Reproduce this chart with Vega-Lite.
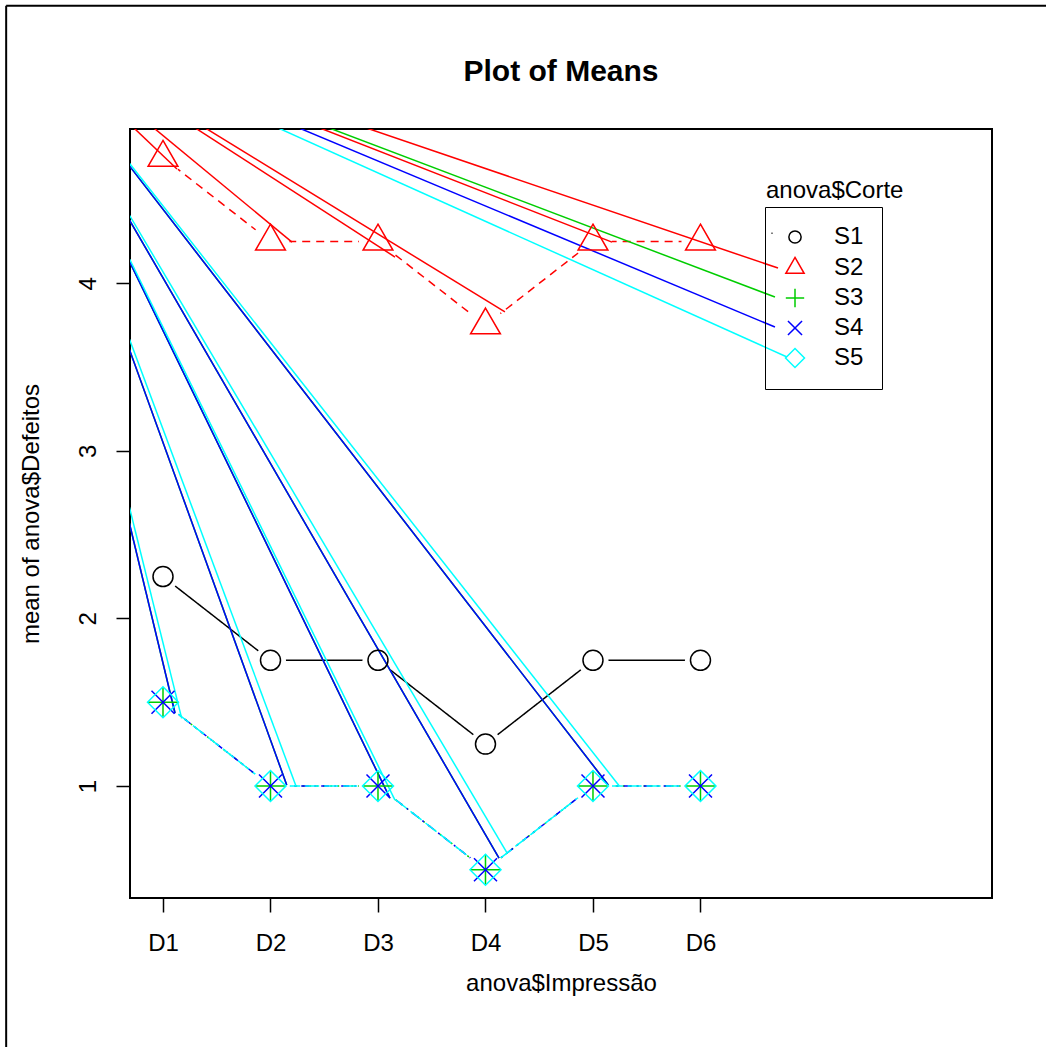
{
  "$schema": "https://vega.github.io/schema/vega-lite/v6.json",
  "width": 862,
  "height": 769,
  "autosize": {"type": "none"},
  "padding": {"left": 130, "top": 129, "right": 54, "bottom": 149},
  "background": "white",
  "config": {
    "view": {"stroke": "black", "strokeWidth": 2},
    "font": "Liberation Sans"
  },
  "title": {
    "text": "Plot of Means",
    "fontSize": 30,
    "fontWeight": "bold",
    "font": "Liberation Sans",
    "color": "black",
    "anchor": "middle",
    "frame": "group",
    "offset": -106,
    "baseline": "alphabetic"
  },
  "datasets": {
    "means": [
      {"Corte": "S1", "Impressao": "D1", "pos": 1, "mean": 2.25},
      {"Corte": "S1", "Impressao": "D2", "pos": 2, "mean": 1.75},
      {"Corte": "S1", "Impressao": "D3", "pos": 3, "mean": 1.75},
      {"Corte": "S1", "Impressao": "D4", "pos": 4, "mean": 1.25},
      {"Corte": "S1", "Impressao": "D5", "pos": 5, "mean": 1.75},
      {"Corte": "S1", "Impressao": "D6", "pos": 6, "mean": 1.75},
      {"Corte": "S2", "Impressao": "D1", "pos": 1, "mean": 4.75},
      {"Corte": "S2", "Impressao": "D2", "pos": 2, "mean": 4.25},
      {"Corte": "S2", "Impressao": "D3", "pos": 3, "mean": 4.25},
      {"Corte": "S2", "Impressao": "D4", "pos": 4, "mean": 3.75},
      {"Corte": "S2", "Impressao": "D5", "pos": 5, "mean": 4.25},
      {"Corte": "S2", "Impressao": "D6", "pos": 6, "mean": 4.25},
      {"Corte": "S3", "Impressao": "D1", "pos": 1, "mean": 1.5},
      {"Corte": "S3", "Impressao": "D2", "pos": 2, "mean": 1.0},
      {"Corte": "S3", "Impressao": "D3", "pos": 3, "mean": 1.0},
      {"Corte": "S3", "Impressao": "D4", "pos": 4, "mean": 0.5},
      {"Corte": "S3", "Impressao": "D5", "pos": 5, "mean": 1.0},
      {"Corte": "S3", "Impressao": "D6", "pos": 6, "mean": 1.0},
      {"Corte": "S4", "Impressao": "D1", "pos": 1, "mean": 1.5},
      {"Corte": "S4", "Impressao": "D2", "pos": 2, "mean": 1.0},
      {"Corte": "S4", "Impressao": "D3", "pos": 3, "mean": 1.0},
      {"Corte": "S4", "Impressao": "D4", "pos": 4, "mean": 0.5},
      {"Corte": "S4", "Impressao": "D5", "pos": 5, "mean": 1.0},
      {"Corte": "S4", "Impressao": "D6", "pos": 6, "mean": 1.0},
      {"Corte": "S5", "Impressao": "D1", "pos": 1, "mean": 1.5},
      {"Corte": "S5", "Impressao": "D2", "pos": 2, "mean": 1.0},
      {"Corte": "S5", "Impressao": "D3", "pos": 3, "mean": 1.0},
      {"Corte": "S5", "Impressao": "D4", "pos": 4, "mean": 0.5},
      {"Corte": "S5", "Impressao": "D5", "pos": 5, "mean": 1.0},
      {"Corte": "S5", "Impressao": "D6", "pos": 6, "mean": 1.0}
    ],
    "strays": [
      {"Corte": "S2", "x_start": -0.47, "y_start": 5.661, "x_end": 1.13, "y_end": 4.682},
      {"Corte": "S2", "x_start": -0.47, "y_start": 5.661, "x_end": 2.2, "y_end": 4.246},
      {"Corte": "S2", "x_start": -0.47, "y_start": 5.661, "x_end": 3.158, "y_end": 4.157},
      {"Corte": "S2", "x_start": -0.47, "y_start": 5.661, "x_end": 4.181, "y_end": 3.829},
      {"Corte": "S2", "x_start": -0.47, "y_start": 5.661, "x_end": 5.177, "y_end": 4.246},
      {"Corte": "S2", "x_start": -0.47, "y_start": 5.661, "x_end": 6.721, "y_end": 4.091},
      {"Corte": "S3", "x_start": -0.47, "y_start": 5.661, "x_end": 1.112, "y_end": 1.434},
      {"Corte": "S3", "x_start": -0.47, "y_start": 5.661, "x_end": 2.151, "y_end": 1.006},
      {"Corte": "S3", "x_start": -0.47, "y_start": 5.661, "x_end": 3.112, "y_end": 0.927},
      {"Corte": "S3", "x_start": -0.47, "y_start": 5.661, "x_end": 4.126, "y_end": 0.569},
      {"Corte": "S3", "x_start": -0.47, "y_start": 5.661, "x_end": 5.142, "y_end": 1.006},
      {"Corte": "S3", "x_start": -0.47, "y_start": 5.661, "x_end": 6.693, "y_end": 3.918},
      {"Corte": "S4", "x_start": -0.47, "y_start": 5.661, "x_end": 1.112, "y_end": 1.434},
      {"Corte": "S4", "x_start": -0.47, "y_start": 5.661, "x_end": 2.151, "y_end": 1.006},
      {"Corte": "S4", "x_start": -0.47, "y_start": 5.661, "x_end": 3.112, "y_end": 0.927},
      {"Corte": "S4", "x_start": -0.47, "y_start": 5.661, "x_end": 4.126, "y_end": 0.569},
      {"Corte": "S4", "x_start": -0.47, "y_start": 5.661, "x_end": 5.142, "y_end": 1.006},
      {"Corte": "S4", "x_start": -0.47, "y_start": 5.661, "x_end": 6.693, "y_end": 3.739},
      {"Corte": "S5", "x_start": -0.47, "y_start": 5.661, "x_end": 1.174, "y_end": 1.404},
      {"Corte": "S5", "x_start": -0.47, "y_start": 5.661, "x_end": 2.237, "y_end": 1.0},
      {"Corte": "S5", "x_start": -0.47, "y_start": 5.661, "x_end": 3.158, "y_end": 0.916},
      {"Corte": "S5", "x_start": -0.47, "y_start": 5.661, "x_end": 4.203, "y_end": 0.598},
      {"Corte": "S5", "x_start": -0.47, "y_start": 5.661, "x_end": 5.245, "y_end": 1.0},
      {"Corte": "S5", "x_start": -0.47, "y_start": 5.661, "x_end": 6.805, "y_end": 3.56}
    ]
  },
  "layer": [
    {
      "data": {"name": "means"},
      "mark": {"type": "point", "filled": false, "strokeWidth": 1.5, "opacity": 0, "size": 400},
      "encoding": {
        "x": {"field": "pos", "type": "quantitative", "title": "anova$Impressão", "scale": {"domain": [0.693, 8.712], "nice": false, "zero": false}},
        "y": {"field": "mean", "type": "quantitative", "title": "mean of anova$Defeitos", "scale": {"domain": [0.3316, 4.921], "nice": false, "zero": false}},
        "color": {
          "field": "Corte", "type": "nominal",
          "scale": {"domain": ["S1", "S2", "S3", "S4", "S5"], "range": ["black", "#FF0000", "#00CD00", "#0000FF", "#00FFFF"]},
          "legend": {
            "title": null, "orient": "none", "legendX": 635, "legendY": 78,
            "padding": 18, "strokeColor": "black", "fillColor": null,
            "symbolSize": 150, "symbolStrokeWidth": 1.5, "symbolOpacity": 1,
            "labelFontSize": 24, "labelFont": "Liberation Sans", "labelColor": "black",
            "labelOffset": 27, "symbolOffset": 0, "rowPadding": 5
          }
        },
        "shape": {
          "field": "Corte", "type": "nominal",
          "scale": {
            "domain": ["S1", "S2", "S3", "S4", "S5"],
            "range": [
              "M-1.0,0A1.0,1.0 0 1,0 1.0,0A1.0,1.0 0 1,0 -1.0,0Z",
              "M0,-1.72L1.49,0.86L-1.49,0.86Z",
              "M-1.5,0H1.5M0,-1.5V1.5",
              "M-1.15,-1.15L1.15,1.15M-1.15,1.15L1.15,-1.15",
              "M0,-1.55L1.55,0L0,1.55L-1.55,0Z"
            ]
          }
        }
      }
    },
    {
      "data": {"name": "means"},
      "mark": {"type": "line", "strokeWidth": 1.5, "clip": true},
      "encoding": {
        "x": {
          "field": "pos", "type": "quantitative", "title": "anova$Impressão",
          "scale": {"domain": [0.693, 8.712], "nice": false, "zero": false},
          "axis": {
            "values": [1, 2, 3, 4, 5, 6],
            "labelExpr": "'D' + datum.value",
            "domain": false, "grid": false,
            "tickSize": 14, "tickColor": "black", "tickWidth": 1.5,
            "labelFontSize": 24, "labelColor": "black", "labelFont": "Liberation Sans",
            "labelBaseline": "alphabetic", "labelPadding": 38.6,
            "labelFlush": false, "labelOverlap": false,
            "titleFontSize": 24, "titleFont": "Liberation Sans", "titleFontWeight": "normal",
            "titleColor": "black", "titleY": 92.6, "titleBaseline": "alphabetic"
          }
        },
        "y": {
          "field": "mean", "type": "quantitative", "title": "mean of anova$Defeitos",
          "scale": {"domain": [0.3316, 4.921], "nice": false, "zero": false},
          "axis": {
            "values": [1, 2, 3, 4],
            "format": "d",
            "domain": false, "grid": false,
            "tickSize": 14, "tickColor": "black", "tickWidth": 1.5,
            "labelFontSize": 24, "labelColor": "black", "labelFont": "Liberation Sans",
            "labelAngle": -90, "labelAlign": "center", "labelBaseline": "alphabetic",
            "labelPadding": 20.4, "labelFlush": false, "labelOverlap": false,
            "titleFontSize": 24, "titleFont": "Liberation Sans", "titleFontWeight": "normal",
            "titleColor": "black", "titleX": -92, "titleBaseline": "alphabetic", "titleAngle": -90
          }
        },
        "color": {"field": "Corte", "type": "nominal"},
        "strokeDash": {
          "field": "Corte", "type": "nominal", "legend": null,
          "scale": {"range": [[1, 0], [8, 6], [2, 5], [2, 5, 8, 5], [14, 5]]}
        }
      }
    },
    {
      "data": {"name": "means"},
      "transform": [{"filter": "datum.Corte === 'S1'"}],
      "mark": {"type": "point", "shape": "circle", "filled": true, "fill": "white", "strokeWidth": 0, "opacity": 1, "size": 961},
      "encoding": {
        "x": {"field": "pos", "type": "quantitative", "title": "anova$Impressão", "scale": {"domain": [0.693, 8.712], "nice": false, "zero": false}},
        "y": {"field": "mean", "type": "quantitative", "title": "mean of anova$Defeitos", "scale": {"domain": [0.3316, 4.921], "nice": false, "zero": false}}
      }
    },
    {
      "data": {"name": "means"},
      "transform": [{"filter": "datum.Corte !== 'S1'"}],
      "mark": {"type": "point", "shape": "circle", "filled": true, "fill": "white", "strokeWidth": 0, "opacity": 1, "size": 1444},
      "encoding": {
        "x": {"field": "pos", "type": "quantitative", "title": "anova$Impressão", "scale": {"domain": [0.693, 8.712], "nice": false, "zero": false}},
        "y": {"field": "mean", "type": "quantitative", "title": "mean of anova$Defeitos", "scale": {"domain": [0.3316, 4.921], "nice": false, "zero": false}}
      }
    },
    {
      "data": {"name": "strays"},
      "mark": {"type": "rule", "strokeWidth": 1.5, "clip": true},
      "encoding": {
        "x": {"field": "x_start", "type": "quantitative", "title": "anova$Impressão", "scale": {"domain": [0.693, 8.712], "nice": false, "zero": false}},
        "y": {"field": "y_start", "type": "quantitative", "title": "mean of anova$Defeitos", "scale": {"domain": [0.3316, 4.921], "nice": false, "zero": false}},
        "x2": {"field": "x_end"},
        "y2": {"field": "y_end"},
        "color": {"field": "Corte", "type": "nominal"}
      }
    },
    {
      "data": {"name": "means"},
      "mark": {"type": "point", "filled": false, "strokeWidth": 1.5, "opacity": 1, "size": 400},
      "encoding": {
        "x": {"field": "pos", "type": "quantitative", "title": "anova$Impressão", "scale": {"domain": [0.693, 8.712], "nice": false, "zero": false}},
        "y": {"field": "mean", "type": "quantitative", "title": "mean of anova$Defeitos", "scale": {"domain": [0.3316, 4.921], "nice": false, "zero": false}},
        "color": {"field": "Corte", "type": "nominal"},
        "shape": {"field": "Corte", "type": "nominal"}
      }
    },
    {
      "data": {"values": [{}]},
      "mark": {"type": "rule", "clip": false, "color": "black", "strokeWidth": 2},
      "encoding": {
        "x": {"datum": -0.459, "type": "quantitative", "scale": {"domain": [0.693, 8.712], "nice": false, "zero": false}},
        "y": {"datum": 5.657, "type": "quantitative", "scale": {"domain": [0.3316, 4.921], "nice": false, "zero": false}},
        "y2": {"datum": -0.7},
        "opacity": {
          "datum": "t", "type": "nominal", "scale": {"range": [1]},
          "legend": {
            "title": "anova$Corte", "orient": "none", "legendX": 636, "legendY": 69.3,
            "padding": 0, "titleFontSize": 24, "titleFont": "Liberation Sans",
            "titleFontWeight": "normal", "titleColor": "black", "titleBaseline": "alphabetic",
            "symbolOpacity": 0, "labelExpr": "''", "labelFontSize": 12, "symbolSize": 1
          }
        }
      }
    },
    {
      "data": {"values": [{}]},
      "mark": {"type": "rule", "clip": false, "color": "black", "strokeWidth": 2},
      "encoding": {
        "x": {"datum": -0.459, "type": "quantitative", "scale": {"domain": [0.693, 8.712], "nice": false, "zero": false}},
        "x2": {"datum": 9.4},
        "y": {"datum": 5.657, "type": "quantitative", "scale": {"domain": [0.3316, 4.921], "nice": false, "zero": false}}
      }
    }
  ]
}
